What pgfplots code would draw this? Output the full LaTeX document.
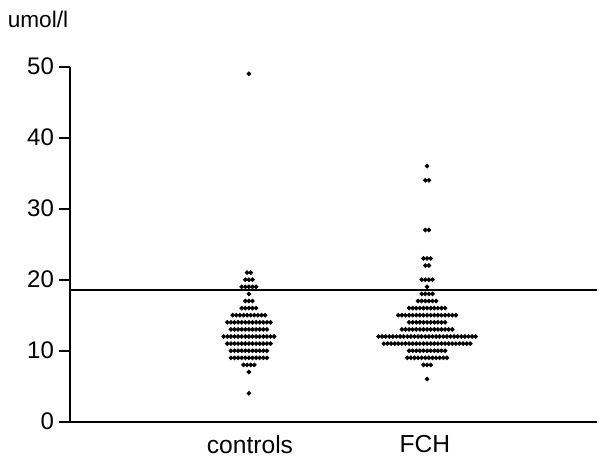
\documentclass[border=0pt]{standalone}
\usepackage{fontspec}
\setmainfont{Liberation Sans}
\usepackage{pgfplots}
\pgfplotsset{compat=1.18}
\begin{document}
\begin{tikzpicture}
\begin{axis}[
 scale only axis, width=263.5pt, height=177.5pt,
 xmin=0, xmax=146.4, ymin=0, ymax=50,
 axis x line*=bottom, axis y line*=left,
 axis line style={line width=0.9pt, black},
 ytick={0,10,20,30,40,50},
 xtick={50,98.6}, xticklabels={controls,FCH},
 x tick style={draw=none},
 y tick style={line width=0.9pt, black},
 tick align=outside, major tick length=5.5pt,
 yticklabel style={font=\fontsize{12}{14}\selectfont, xshift=1pt},
 xticklabel style={font=\fontsize{12.3}{14}\selectfont, yshift=2pt},
 /pgf/number format/assume math mode=true,
 clip=false,
]
% controls
\addplot[only marks, mark=*, mark size=0.95pt, black, x filter/.expression={x+49.7}] coordinates {
(0,49)
(-0.5,21) (0.5,21)
(-1,20) (0,20) (1,20)
(-2,19) (-1,19) (0,19) (1,19) (2,19)
(0,18)
(-1,17) (0,17) (1,17)
(-2,16) (-1,16) (0,16) (1,16) (2,16)
(-4.5,15) (-3.5,15) (-2.5,15) (-1.5,15) (-0.5,15) (0.5,15) (1.5,15) (2.5,15) (3.5,15) (4.5,15)
(-6,14) (-5,14) (-4,14) (-3,14) (-2,14) (-1,14) (0,14) (1,14) (2,14) (3,14) (4,14) (5,14) (6,14)
(-5,13) (-4,13) (-3,13) (-2,13) (-1,13) (0,13) (1,13) (2,13) (3,13) (4,13) (5,13)
(-7,12) (-6,12) (-5,12) (-4,12) (-3,12) (-2,12) (-1,12) (0,12) (1,12) (2,12) (3,12) (4,12) (5,12) (6,12) (7,12)
(-6,11) (-5,11) (-4,11) (-3,11) (-2,11) (-1,11) (0,11) (1,11) (2,11) (3,11) (4,11) (5,11) (6,11)
(-5,10) (-4,10) (-3,10) (-2,10) (-1,10) (0,10) (1,10) (2,10) (3,10) (4,10) (5,10)
(-5,9) (-4,9) (-3,9) (-2,9) (-1,9) (0,9) (1,9) (2,9) (3,9) (4,9) (5,9)
(-1.5,8) (-0.5,8) (0.5,8) (1.5,8)
(0,7)
(0,4)
};
% FCH
\addplot[only marks, mark=*, mark size=0.95pt, black, x filter/.expression={x+99.2}] coordinates {
(0,36)
(-0.5,34) (0.5,34)
(-0.5,27) (0.5,27)
(-1,23) (0,23) (1,23)
(-0.5,22) (0.5,22)
(-1.5,20) (-0.5,20) (0.5,20) (1.5,20)
(0,19)
(-1.5,18) (-0.5,18) (0.5,18) (1.5,18)
(-2.5,17) (-1.5,17) (-0.5,17) (0.5,17) (1.5,17) (2.5,17)
(-5,16) (-4,16) (-3,16) (-2,16) (-1,16) (0,16) (1,16) (2,16) (3,16) (4,16) (5,16)
(-8,15) (-7,15) (-6,15) (-5,15) (-4,15) (-3,15) (-2,15) (-1,15) (0,15) (1,15) (2,15) (3,15) (4,15) (5,15) (6,15) (7,15) (8,15)
(-5,14) (-4,14) (-3,14) (-2,14) (-1,14) (0,14) (1,14) (2,14) (3,14) (4,14) (5,14)
(-7,13) (-6,13) (-5,13) (-4,13) (-3,13) (-2,13) (-1,13) (0,13) (1,13) (2,13) (3,13) (4,13) (5,13) (6,13) (7,13)
(-13.5,12) (-12.5,12) (-11.5,12) (-10.5,12) (-9.5,12) (-8.5,12) (-7.5,12) (-6.5,12) (-5.5,12) (-4.5,12) (-3.5,12) (-2.5,12) (-1.5,12) (-0.5,12) (0.5,12) (1.5,12) (2.5,12) (3.5,12) (4.5,12) (5.5,12) (6.5,12) (7.5,12) (8.5,12) (9.5,12) (10.5,12) (11.5,12) (12.5,12) (13.5,12)
(-12,11) (-11,11) (-10,11) (-9,11) (-8,11) (-7,11) (-6,11) (-5,11) (-4,11) (-3,11) (-2,11) (-1,11) (0,11) (1,11) (2,11) (3,11) (4,11) (5,11) (6,11) (7,11) (8,11) (9,11) (10,11) (11,11) (12,11)
(-5,10) (-4,10) (-3,10) (-2,10) (-1,10) (0,10) (1,10) (2,10) (3,10) (4,10) (5,10)
(-5.5,9) (-4.5,9) (-3.5,9) (-2.5,9) (-1.5,9) (-0.5,9) (0.5,9) (1.5,9) (2.5,9) (3.5,9) (4.5,9) (5.5,9)
(-1,8) (0,8) (1,8)
(0,6)
};
% reference line
\addplot[black, line width=0.9pt] coordinates {(0,18.6) (146.4,18.6)};
\node[font=\fontsize{11.3}{13}\selectfont] at (rel axis cs:0,1) [xshift=-16pt, yshift=23.4pt] {umol/l};
\path (rel axis cs:-0.1328,-0.0845) rectangle (rel axis cs:1.0038,1.1879);
\end{axis}
\end{tikzpicture}
\end{document}
